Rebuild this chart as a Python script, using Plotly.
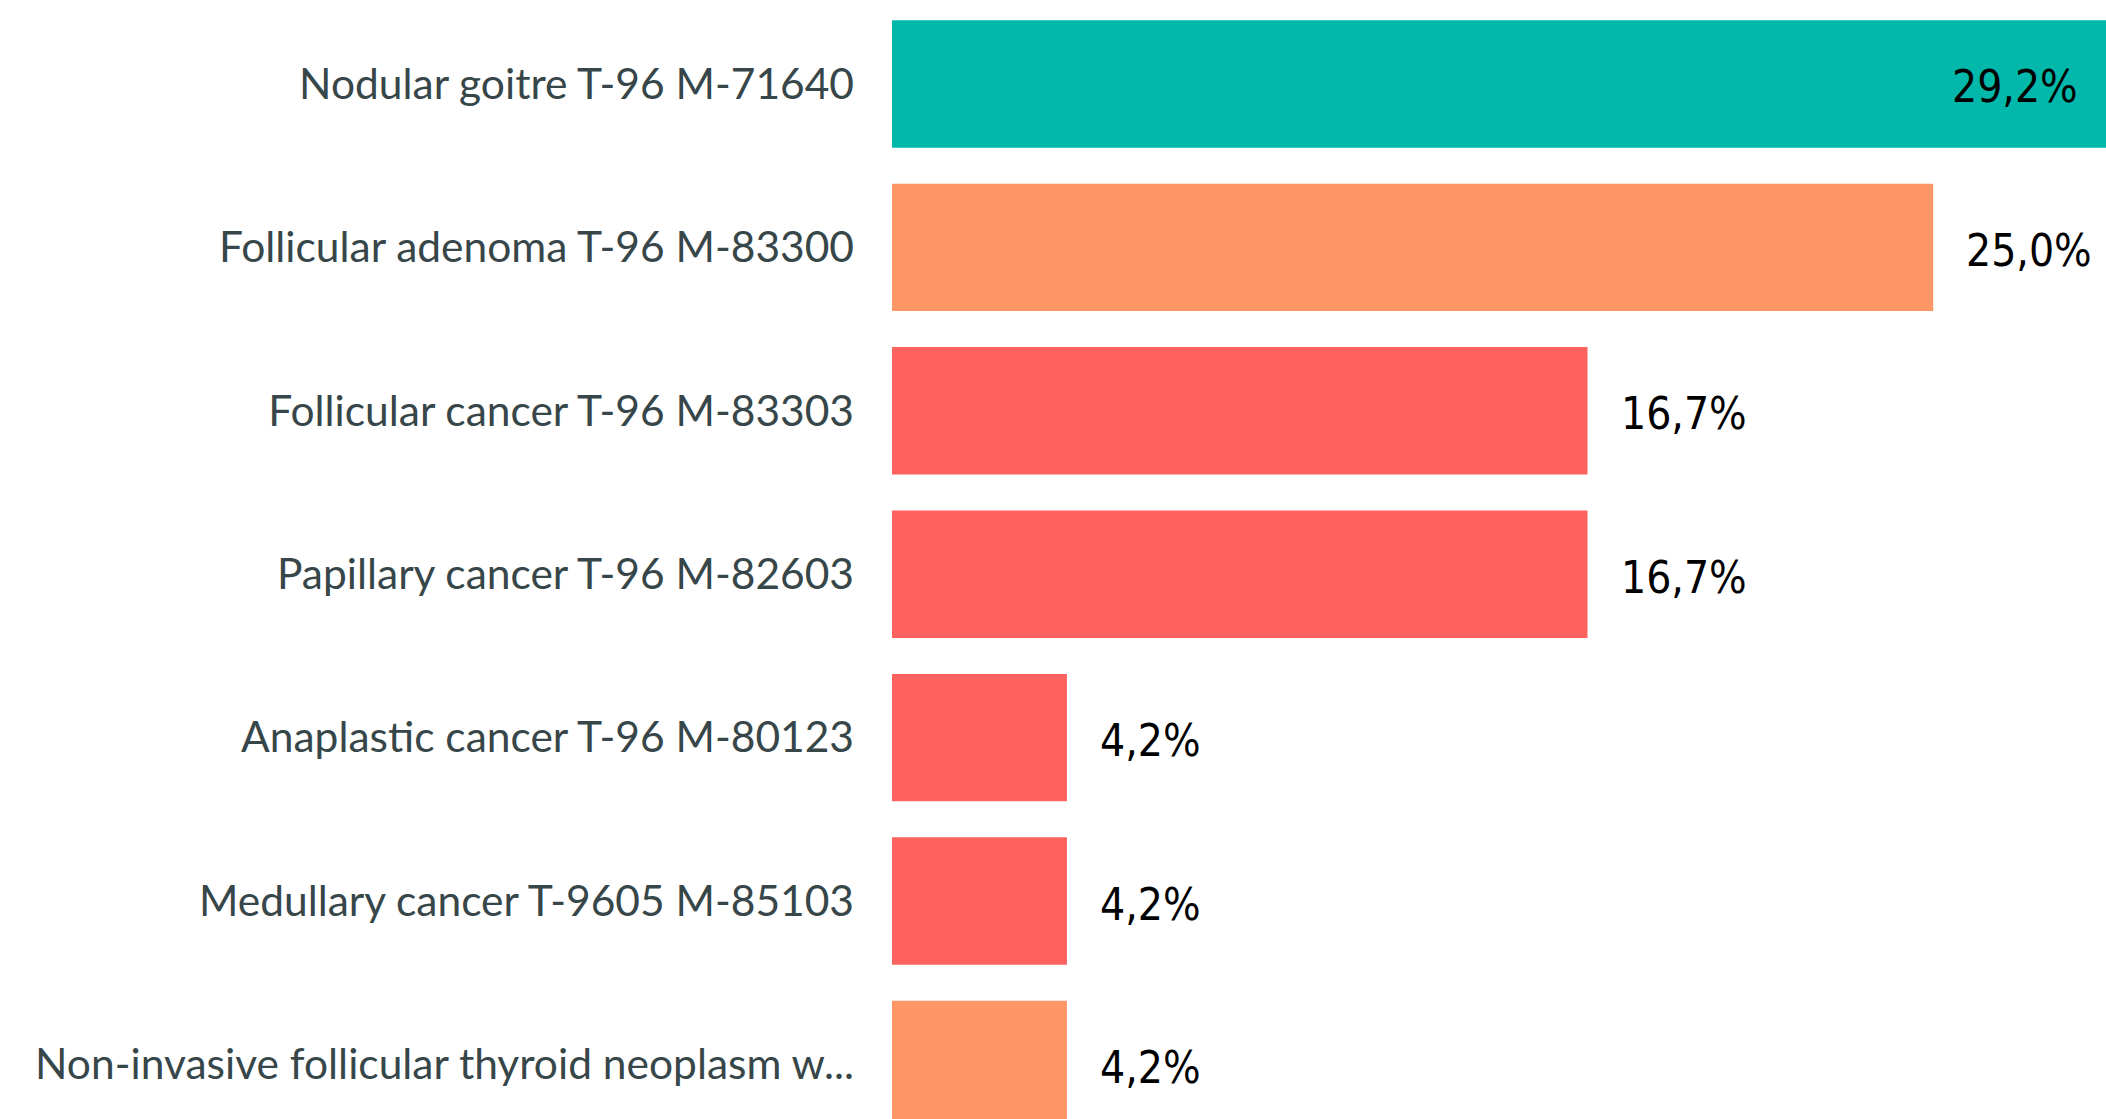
import plotly.graph_objects as go

categories = [
    "Nodular goitre T-96 M-71640",
    "Follicular adenoma T-96 M-83300",
    "Follicular cancer T-96 M-83303",
    "Papillary cancer T-96 M-82603",
    "Anaplastic cancer T-96 M-80123",
    "Medullary cancer T-9605 M-85103",
    "Non-invasive follicular thyroid neoplasm w...",
]
values = [29.2, 25.0, 16.7, 16.7, 4.2, 4.2, 4.2]
value_labels = ["29,2%", "25,0%", "16,7%", "16,7%", "4,2%", "4,2%", "4,2%"]
bar_colors = ["#01B8AA", "#FE9666", "#FD625E", "#FD625E", "#FD625E", "#FD625E", "#FE9666"]

X_MAX = 29.15
W, H = 2106, 1119

fig = go.Figure(
    go.Bar(
        x=values,
        y=categories,
        orientation="h",
        marker=dict(color=bar_colors, line=dict(width=0)),
        hoverinfo="skip",
    )
)

for c, v, lab in zip(categories, values, value_labels):
    inside = v >= X_MAX - 1
    fig.add_annotation(
        x=X_MAX if inside else v,
        y=c,
        text=lab,
        showarrow=False,
        xanchor="right" if inside else "left",
        xshift=-26 if inside else 31,
        yshift=-3,
        font=dict(family="DejaVu Sans Condensed", size=44, color="#000000"),
    )

fig.update_layout(
    width=W,
    height=H,
    margin=dict(l=892, r=0, t=0, b=0),
    paper_bgcolor="white",
    plot_bgcolor="white",
    bargap=0.22,
    showlegend=False,
    xaxis=dict(range=[0, X_MAX], visible=False, showgrid=False, zeroline=False),
    yaxis=dict(
        autorange=False,
        range=[6.334, -0.514],
        categoryorder="array",
        categoryarray=categories,
        showgrid=False,
        zeroline=False,
        showline=False,
        ticks="",
        ticklabelstandoff=37,
        tickfont=dict(family="Lato", size=42.5, color="#374649"),
    ),
)

fig.write_html(
    "out.html",
    config={"displayModeBar": False},
    post_script="document.body.style.margin='0';document.body.style.overflow='hidden';",
)
